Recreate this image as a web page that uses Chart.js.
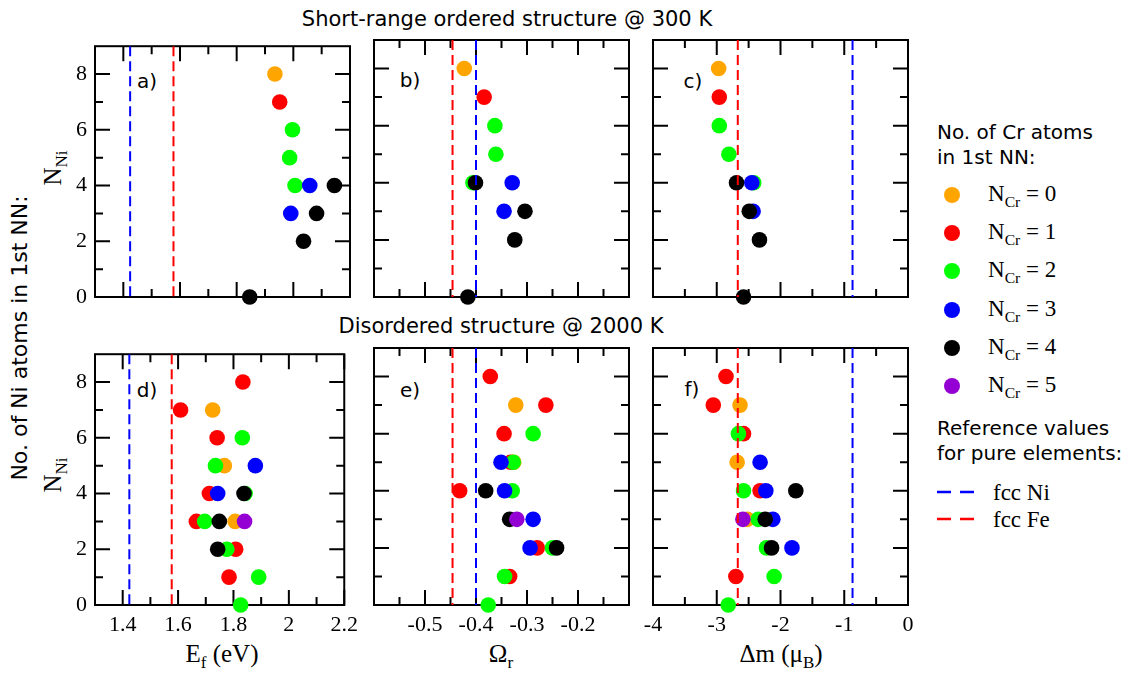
<!DOCTYPE html>
<html>
<head>
<meta charset="utf-8">
<script src="https://cdn.jsdelivr.net/npm/chart.js@4.4.1/dist/chart.umd.min.js"></script>
<style>
  body { margin: 0; background: #fff; }
  #fig { position: relative; width: 1138px; height: 673px; overflow: hidden; background: #fff; }
  #fig canvas { position: absolute; }
  .t { position: absolute; white-space: nowrap; color: #000; line-height: 1; transform: translate(-50%, -50%); }
  .rot { transform: translate(-50%, -50%) rotate(-90deg); }
  .sans { font-family: 'DejaVu Sans', sans-serif; }
  .serif { font-family: 'Liberation Serif', 'Times New Roman', serif; }
  .sub { font-size: 0.68em; position: relative; top: 0.38em; }
  .lg { position: absolute; white-space: nowrap; line-height: 1; color: #000; transform: translateY(-50%); }
  .dot { position: absolute; width: 16px; height: 16px; border-radius: 50%; transform: translate(-50%, -50%); }
</style>
</head>
<body>
<div id="fig">
  <div class="t sans" style="left:507px; top:19px; font-size:21px;">Short-range ordered structure @ 300 K</div>
  <div class="t sans" style="left:501px; top:326px; font-size:21px;">Disordered structure @ 2000 K</div>

  <div class="t sans rot" style="left:20px; top:338px; font-size:22px;">No. of Ni atoms in 1st NN:</div>
  <div class="t serif rot" style="left:52px; top:168px; font-size:25px;">N<span class="sub">Ni</span></div>
  <div class="t serif rot" style="left:52px; top:475px; font-size:25px;">N<span class="sub">Ni</span></div>

  <div class="t sans" style="left:147px; top:81px; font-size:20px;">a)</div>
  <div class="t sans" style="left:410px; top:80px; font-size:20px;">b)</div>
  <div class="t sans" style="left:693px; top:81px; font-size:20px;">c)</div>
  <div class="t sans" style="left:147px; top:390px; font-size:20px;">d)</div>
  <div class="t sans" style="left:410px; top:390px; font-size:20px;">e)</div>
  <div class="t sans" style="left:692px; top:389px; font-size:20px;">f)</div>

  <div class="t serif" style="left:222px; top:653px; font-size:25px;">E<span class="sub">f</span> (eV)</div>
  <div class="t serif" style="left:501px; top:653px; font-size:25px;">Ω<span class="sub">r</span></div>
  <div class="t serif" style="left:781px; top:653px; font-size:25px;">Δm (μ<span class="sub">B</span>)</div>

  <div class="lg sans" style="left:937px; top:132px; font-size:20px;">No. of Cr atoms</div>
  <div class="lg sans" style="left:937px; top:157px; font-size:20px;">in 1st NN:</div>
  <div class="lg sans" style="left:937px; top:428px; font-size:20px;">Reference values</div>
  <div class="lg sans" style="left:937px; top:453px; font-size:20px;">for pure elements:</div>
</div>

<script>
// colour code for the number of Cr atoms in the 1st NN shell
const crColors = ['#ffa500', '#ff0000', '#00ff00', '#0000ff', '#000000', '#9400d3'];
const crLabels = ['0', '1', '2', '3', '4', '5'];

// reference lines: fcc Ni, fcc Fe
const refNames = ['fcc Ni', 'fcc Fe'];
const refColors = ['#0000ff', '#ff0000'];
const refEf = [1.424, 1.577];
const refOm = [-0.400, -0.446];
const refDm = [-0.87, -2.67];

// y axis (N_Ni)
const yRange = [0, 9];
const yTicks = [0, 2, 4, 6, 8];
const yMinor = [1, 3, 5, 7];

// x axes
const efRange = [1.3, 2.2];
const efTicks = [1.4, 1.6, 1.8, 2, 2.2];
const efMinor = [1.5, 1.7, 1.9, 2.1];
const omRange = [-0.6, -0.1];
const omTicks = [-0.5, -0.4, -0.3, -0.2];
const omMinor = [-0.55, -0.45, -0.35, -0.25, -0.15];
const dmRange = [-4, 0];
const dmTicks = [-4, -3, -2, -1, 0];
const dmMinor = [-3.5, -2.5, -1.5, -0.5];

// short-range ordered structure @ 300 K
const sroNi = [8, 7, 6, 5, 4, 4, 4, 3, 3, 2, 0];
const sroCr = [0, 1, 2, 2, 2, 3, 4, 3, 4, 4, 4];
const sroEf = [1.935, 1.952, 1.997, 1.987, 2.006, 2.058, 2.145, 1.991, 2.082, 2.036, 1.846];
const sroOm = [-0.423, -0.384, -0.363, -0.361, -0.406, -0.329, -0.401, -0.345, -0.304, -0.324, -0.416];
const sroDm = [-2.97, -2.96, -2.96, -2.81, -2.42, -2.45, -2.69, -2.43, -2.49, -2.33, -2.58];

// disordered structure @ 2000 K
const disEfNi = [8, 7, 7, 6, 6, 5, 5, 5, 4, 4, 4, 4, 3, 3, 3, 3, 3, 2, 2, 2, 1, 1, 0];
const disEfCr = [1, 1, 0, 1, 2, 2, 0, 3, 1, 3, 4, 2, 1, 2, 4, 0, 5, 4, 2, 1, 1, 2, 2];
const disEf = [1.834, 1.609, 1.725, 1.741, 1.832, 1.735, 1.767, 1.879, 1.713, 1.743, 1.838, 1.842,
               1.666, 1.696, 1.749, 1.806, 1.840, 1.743, 1.776, 1.808, 1.784, 1.891, 1.826];

const disOmNi = [8, 7, 7, 6, 6, 5, 5, 5, 5, 4, 4, 4, 4, 3, 3, 3, 2, 2, 2, 2, 1, 1, 0];
const disOmCr = [1, 0, 1, 1, 2, 3, 1, 0, 2, 1, 4, 3, 2, 4, 5, 3, 3, 1, 2, 4, 1, 2, 2];
const disOm = [-0.372, -0.322, -0.263, -0.345, -0.288, -0.351, -0.332, -0.326, -0.327,
               -0.432, -0.381, -0.344, -0.329, -0.334, -0.320, -0.288,
               -0.294, -0.280, -0.250, -0.242, -0.334, -0.344, -0.376];

const disDmNi = [8, 7, 7, 6, 6, 5, 5, 4, 4, 4, 4, 3, 3, 3, 3, 3, 2, 2, 2, 1, 1, 0];
const disDmCr = [1, 1, 0, 1, 2, 0, 3, 2, 1, 3, 4, 5, 0, 2, 4, 3, 2, 4, 3, 1, 2, 2];
const disDm = [-2.855, -3.054, -2.635, -2.58, -2.66, -2.68, -2.32, -2.58, -2.32, -2.23, -1.76,
               -2.59, -2.52, -2.35, -2.24, -2.12, -2.22, -2.14, -1.82, -2.70, -2.10, -2.82];

const fig = document.getElementById('fig');
const PAD = { l: 45, t: 15, r: 15, b: 45 };
const PW = 255, PH = 257;
const colLeft = [95, 374, 653];
const rowTop = [40, 348];
const tickFont = { family: 'Liberation Serif', size: 22 };

// frame with inward ticks on all four sides
const framePlugin = {
    id: 'frame',
    beforeDatasetsDraw(chart, args, opts) {
        const { ctx, chartArea: a, scales } = chart;
        const marks = (scale, vals, len) => {
            vals.forEach(v => {
                const p = scale.getPixelForValue(v);
                if (scale.axis === 'x') {
                    ctx.moveTo(p, a.bottom); ctx.lineTo(p, a.bottom - len);
                    ctx.moveTo(p, a.top); ctx.lineTo(p, a.top + len);
                } else {
                    ctx.moveTo(a.left, p); ctx.lineTo(a.left + len, p);
                    ctx.moveTo(a.right, p); ctx.lineTo(a.right - len, p);
                }
            });
        };
        ctx.save();
        ctx.strokeStyle = '#000';
        ctx.lineWidth = 2;
        ctx.beginPath();
        marks(scales.x, opts.xTicks, 15);
        marks(scales.x, opts.xMinor, 8);
        marks(scales.y, yTicks, 15);
        marks(scales.y, yMinor, 8);
        ctx.stroke();
        ctx.strokeRect(a.left, a.top, a.width, a.height);
        ctx.restore();
    }
};

function fmt(v) {
    return String(+v.toFixed(2));
}

function makePanel(col, row, range, ticks, minor, refs, ni, cr, vals) {
    const cv = document.createElement('canvas');
    cv.width = PW + PAD.l + PAD.r;
    cv.height = PH + PAD.t + PAD.b;
    cv.style.left = (colLeft[col] - PAD.l) + 'px';
    cv.style.top = (rowTop[row] - PAD.t) + 'px';
    fig.appendChild(cv);

    const datasets = crColors.map((color, k) => ({
        data: vals.map((v, i) => ({ x: v, y: ni[i], cr: cr[i] })).filter(p => p.cr === k),
        backgroundColor: color,
        pointRadius: 7.8,
        pointHoverRadius: 7.8,
        pointBorderWidth: 0,
        clip: false,
        order: 6 - k
    })).filter(d => d.data.length > 0);

    refs.forEach((v, k) => {
        datasets.push({
            data: [{ x: v, y: yRange[1] }, { x: v, y: yRange[0] }],
            showLine: true,
            borderColor: refColors[k],
            borderWidth: 2,
            borderDash: [10, 5],
            pointRadius: 0,
            order: -1
        });
    });

    new Chart(cv, {
        type: 'scatter',
        data: { datasets },
        options: {
            responsive: false,
            animation: false,
            devicePixelRatio: 1,
            events: [],
            layout: { padding: { top: PAD.t, right: PAD.r, left: 0, bottom: 0 } },
            plugins: {
                legend: { display: false },
                tooltip: { enabled: false },
                frame: { xTicks: ticks, xMinor: minor }
            },
            scales: {
                x: {
                    type: 'linear',
                    min: range[0],
                    max: range[1],
                    afterBuildTicks: axis => { axis.ticks = ticks.map(v => ({ value: v })); },
                    afterFit: axis => { axis.height = PAD.b; },
                    grid: { display: false, drawTicks: false },
                    border: { display: false },
                    ticks: {
                        display: row === 1,
                        autoSkip: false,
                        maxRotation: 0,
                        padding: 7,
                        color: '#000',
                        font: tickFont,
                        callback: v => fmt(v)
                    }
                },
                y: {
                    type: 'linear',
                    min: yRange[0],
                    max: yRange[1],
                    afterBuildTicks: axis => { axis.ticks = yTicks.map(v => ({ value: v })); },
                    afterFit: axis => { axis.width = PAD.l; },
                    grid: { display: false, drawTicks: false },
                    border: { display: false },
                    ticks: {
                        display: col === 0,
                        autoSkip: false,
                        padding: 8,
                        color: '#000',
                        font: tickFont,
                        callback: v => fmt(v)
                    }
                }
            }
        },
        plugins: [framePlugin]
    });
}

makePanel(0, 0, efRange, efTicks, efMinor, refEf, sroNi, sroCr, sroEf);
makePanel(1, 0, omRange, omTicks, omMinor, refOm, sroNi, sroCr, sroOm);
makePanel(2, 0, dmRange, dmTicks, dmMinor, refDm, sroNi, sroCr, sroDm);
makePanel(0, 1, efRange, efTicks, efMinor, refEf, disEfNi, disEfCr, disEf);
makePanel(1, 1, omRange, omTicks, omMinor, refOm, disOmNi, disOmCr, disOm);
makePanel(2, 1, dmRange, dmTicks, dmMinor, refDm, disDmNi, disDmCr, disDm);

// legend
crColors.forEach((c, k) => {
    const y = 195 + k * 38.2;
    const d = document.createElement('div');
    d.className = 'dot';
    d.style.left = '952px';
    d.style.top = y + 'px';
    d.style.background = c;
    fig.appendChild(d);
    const t = document.createElement('div');
    t.className = 'lg serif';
    t.style.left = '988px';
    t.style.top = (y - 2) + 'px';
    t.style.fontSize = '23px';
    t.innerHTML = 'N<span class="sub">Cr</span> = ' + crLabels[k];
    fig.appendChild(t);
});

refNames.forEach((name, k) => {
    const y = 492 + k * 27;
    const s = document.createElementNS('http://www.w3.org/2000/svg', 'svg');
    s.setAttribute('width', '40');
    s.setAttribute('height', '6');
    s.style.position = 'absolute';
    s.style.left = '936px';
    s.style.top = (y - 3) + 'px';
    s.innerHTML = '<line x1="1" y1="3" x2="38" y2="3" stroke="' + refColors[k] +
                  '" stroke-width="2.5" stroke-dasharray="14 9"/>';
    fig.appendChild(s);
    const t = document.createElement('div');
    t.className = 'lg serif';
    t.style.left = '993px';
    t.style.top = y + 'px';
    t.style.fontSize = '23px';
    t.textContent = name;
    fig.appendChild(t);
});
</script>
</body>
</html>
